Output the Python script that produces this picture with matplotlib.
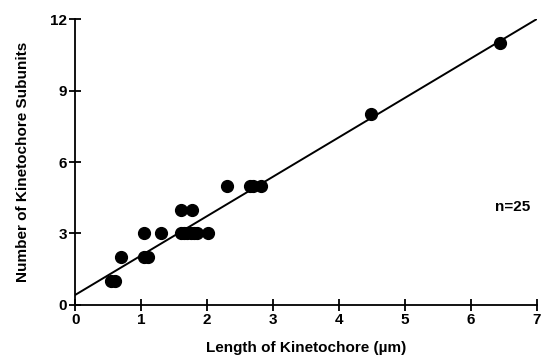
import matplotlib.pyplot as plt
import numpy as np

# kinetochore length (um) vs number of subunits
length = [0.55, 0.60, 0.70, 1.05, 1.05, 1.10, 1.30, 1.60, 1.77, 1.60, 1.65, 1.70,
          1.75, 1.80, 1.85, 2.02, 2.30, 2.65, 2.70, 2.82, 4.48, 6.45]
subunits = [1, 1, 2, 3, 2, 2, 3, 4, 4, 3, 3, 3,
            3, 3, 3, 3, 5, 5, 5, 5, 8, 11]

# regression line
fit_intercept = 0.42
fit_slope = 1.654

plt.rcParams['font.family'] = ['Liberation Sans', 'DejaVu Sans']
plt.rcParams['font.weight'] = 'bold'

fig = plt.figure(figsize=(5.41, 3.60), dpi=100)
ax = fig.add_axes([0.139, 0.153, 0.853, 0.794])

x = np.array([0, 7])
ax.plot(x, fit_intercept + fit_slope * x, color='black', lw=1.4)
ax.plot(length, subunits, 'o', color='black', ms=8.5)

ax.set_xlim(0, 7)
ax.set_ylim(0, 12)
ax.set_xticks(range(0, 8))
ax.set_yticks([0, 3, 6, 9, 12])
ax.spines['top'].set_visible(False)
ax.spines['right'].set_visible(False)
ax.spines['left'].set_linewidth(1.3)
ax.spines['bottom'].set_linewidth(1.3)
ax.tick_params(direction='inout', length=8, width=1.3, labelsize=11, pad=2)

ax.set_xlabel('Length of Kinetochore (µm)', fontsize=11, fontweight='bold', labelpad=10)
ax.set_ylabel('Number of Kinetochore Subunits', fontsize=11, fontweight='bold', labelpad=14)
ax.text(6.9, 4.1, 'n=25', ha='right', va='center', fontsize=11, fontweight='bold')

fig.savefig('out.png', dpi=100)
